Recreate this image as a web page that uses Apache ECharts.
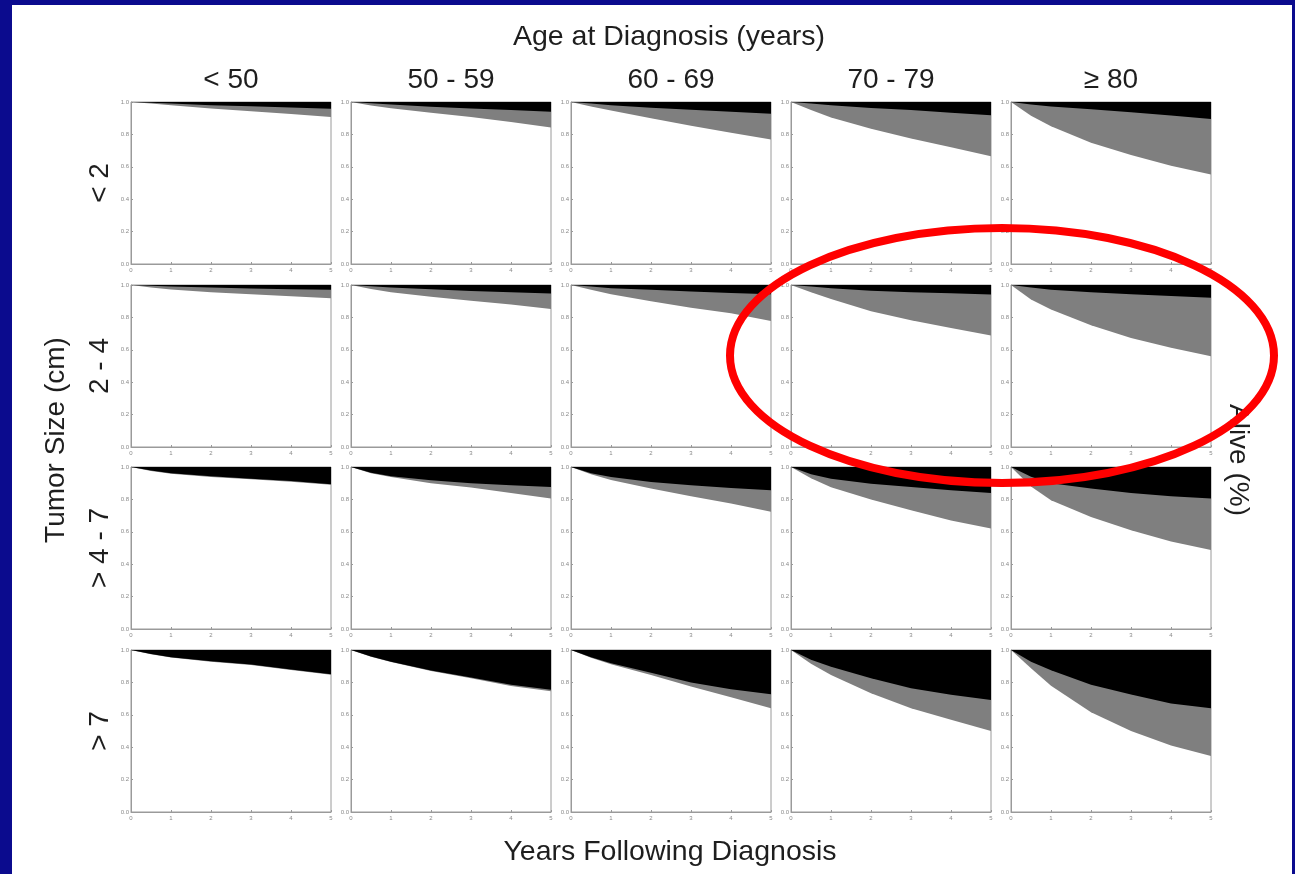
<!DOCTYPE html>
<html>
<head>
<meta charset="utf-8">
<script src="https://cdn.jsdelivr.net/npm/echarts@6/dist/echarts.min.js"></script>
<style>
  html, body { margin: 0; padding: 0; width: 1295px; height: 874px; overflow: hidden; background: #0b0b8e; }
  #paper { position: absolute; left: 12px; top: 5px; width: 1280px; height: 869px; background: #ffffff; }
  #chart { position: absolute; left: 0; top: 0; width: 1295px; height: 874px; }
</style>
</head>
<body>
<div id="paper"></div>
<div id="chart"></div>
<script>
// Follow-up time points (years after diagnosis)
const years = [0, 0.5, 1, 2, 3, 4, 5];
const xTicks = [0, 1, 2, 3, 4, 5];
const yTicks = [0, 0.2, 0.4, 0.6, 0.8, 1.0];

const ageGroups = ['< 50', '50 - 59', '60 - 69', '70 - 79', '\u2265 80'];
const sizeGroups = ['< 2', '2 - 4', '> 4 - 7', '> 7'];

// Proportion still alive (white area), one list per age group
const aliveUnder2 = [
  [1, 0.990, 0.980, 0.960, 0.943, 0.926, 0.908],
  [1, 0.978, 0.962, 0.934, 0.907, 0.877, 0.843],
  [1, 0.972, 0.948, 0.900, 0.853, 0.810, 0.768],
  [1, 0.950, 0.905, 0.835, 0.775, 0.720, 0.665],
  [1, 0.915, 0.850, 0.748, 0.673, 0.607, 0.552]
];
// 1 minus cumulative cancer deaths (lower edge of the black band)
const freeOfCancerDeathUnder2 = [
  [1, 0.995, 0.990, 0.980, 0.973, 0.966, 0.958],
  [1, 0.992, 0.984, 0.970, 0.960, 0.950, 0.940],
  [1, 0.990, 0.980, 0.965, 0.952, 0.940, 0.928],
  [1, 0.990, 0.980, 0.963, 0.950, 0.934, 0.918],
  [1, 0.985, 0.972, 0.956, 0.937, 0.916, 0.895]
];

const alive2to4 = [
  [1, 0.985, 0.972, 0.956, 0.943, 0.930, 0.918],
  [1, 0.975, 0.955, 0.928, 0.903, 0.880, 0.852],
  [1, 0.970, 0.943, 0.900, 0.860, 0.825, 0.778],
  [1, 0.955, 0.914, 0.838, 0.783, 0.735, 0.688],
  [1, 0.910, 0.848, 0.751, 0.673, 0.613, 0.560]
];
const freeOfCancerDeath2to4 = [
  [1, 0.995, 0.990, 0.984, 0.979, 0.974, 0.970],
  [1, 0.992, 0.984, 0.973, 0.963, 0.955, 0.948],
  [1, 0.990, 0.980, 0.970, 0.960, 0.950, 0.943],
  [1, 0.990, 0.980, 0.965, 0.955, 0.949, 0.942],
  [1, 0.985, 0.970, 0.955, 0.943, 0.932, 0.921]
];

const alive4to7 = [
  [1, 0.976, 0.959, 0.939, 0.924, 0.909, 0.890],
  [1, 0.962, 0.938, 0.900, 0.873, 0.840, 0.805],
  [1, 0.955, 0.920, 0.867, 0.820, 0.774, 0.723],
  [1, 0.930, 0.875, 0.800, 0.733, 0.670, 0.620],
  [1, 0.880, 0.795, 0.692, 0.610, 0.540, 0.488]
];
const freeOfCancerDeath4to7 = [
  [1, 0.978, 0.962, 0.943, 0.928, 0.913, 0.894],
  [1, 0.965, 0.943, 0.918, 0.900, 0.887, 0.877],
  [1, 0.962, 0.938, 0.908, 0.887, 0.870, 0.856],
  [1, 0.955, 0.928, 0.897, 0.877, 0.856, 0.840],
  [1, 0.940, 0.900, 0.867, 0.840, 0.820, 0.805]
];

const aliveOver7 = [
  [1, 0.974, 0.953, 0.928, 0.907, 0.877, 0.847],
  [1, 0.959, 0.926, 0.870, 0.826, 0.778, 0.745],
  [1, 0.952, 0.912, 0.846, 0.774, 0.708, 0.640],
  [1, 0.915, 0.846, 0.733, 0.640, 0.569, 0.500],
  [1, 0.887, 0.780, 0.615, 0.500, 0.410, 0.345]
];
const freeOfCancerDeathOver7 = [
  [1, 0.975, 0.955, 0.930, 0.910, 0.880, 0.850],
  [1, 0.960, 0.928, 0.873, 0.830, 0.785, 0.755],
  [1, 0.955, 0.918, 0.860, 0.800, 0.758, 0.727],
  [1, 0.940, 0.897, 0.825, 0.764, 0.723, 0.692],
  [1, 0.928, 0.875, 0.785, 0.725, 0.670, 0.640]
];

const aliveRows = [aliveUnder2, alive2to4, alive4to7, aliveOver7];
const cancerRows = [freeOfCancerDeathUnder2, freeOfCancerDeath2to4, freeOfCancerDeath4to7, freeOfCancerDeathOver7];

// Panel layout (pixels)
const panelLeft0 = 131, panelStepX = 220, panelW = 200;
const panelTops = [102, 285, 467, 650], panelH = 162;

const FONT = '"Liberation Sans", Arial, Helvetica, sans-serif';
const frameColor = '#9a9a9a';
const tickTextColor = '#8a8a8a';

const grid = [], xAxis = [], yAxis = [], series = [];
let idx = 0;
for (let r = 0; r < sizeGroups.length; r++) {
  for (let c = 0; c < ageGroups.length; c++) {
    grid.push({
      left: panelLeft0 + c * panelStepX,
      top: panelTops[r],
      width: panelW,
      height: panelH,
      show: true,
      borderColor: frameColor,
      borderWidth: 1,
      backgroundColor: 'transparent'
    });
    xAxis.push({
      gridIndex: idx, type: 'value', min: 0, max: 5, interval: 1,
      axisLine: { show: true, onZero: false, lineStyle: { color: frameColor, width: 1 } },
      axisTick: { show: true, inside: true, length: 2, lineStyle: { color: frameColor } },
      axisLabel: { show: true, fontSize: 6, color: tickTextColor, margin: 3, fontFamily: FONT,
                   formatter: v => xTicks.includes(v) ? String(v) : '' },
      splitLine: { show: false }
    });
    yAxis.push({
      gridIndex: idx, type: 'value', min: 0, max: 1, interval: 0.2,
      axisLine: { show: true, onZero: false, lineStyle: { color: frameColor, width: 1 } },
      axisTick: { show: true, inside: true, length: 2, lineStyle: { color: frameColor } },
      axisLabel: { show: true, fontSize: 6, color: tickTextColor, margin: 2, fontFamily: FONT,
                   formatter: v => v.toFixed(1) },
      splitLine: { show: false }
    });
    const alive = aliveRows[r][c];
    const noCancerDeath = cancerRows[r][c];
    // grey band: deaths from other causes (filled from survival curve up to 1.0)
    series.push({
      type: 'line', xAxisIndex: idx, yAxisIndex: idx,
      data: years.map((t, i) => [t, alive[i]]),
      showSymbol: false, silent: true,
      lineStyle: { width: 0 },
      areaStyle: { color: '#7f7f7f', opacity: 1, origin: 'end' },
      z: 2
    });
    // black band: cancer deaths, drawn over the grey band
    series.push({
      type: 'line', xAxisIndex: idx, yAxisIndex: idx,
      data: years.map((t, i) => [t, noCancerDeath[i]]),
      showSymbol: false, silent: true,
      lineStyle: { width: 0 },
      areaStyle: { color: '#000000', opacity: 1, origin: 'end' },
      z: 3
    });
    idx++;
  }
}

const textColor = '#1e1e1e';
const graphic = [];
function label(text, x, y, size, rotation) {
  graphic.push({
    type: 'text', x: x, y: y, rotation: rotation || 0, z: 50,
    style: { text: text, font: `${size}px ${FONT}`, fill: textColor, align: 'center', verticalAlign: 'middle' }
  });
}
label('Age at Diagnosis (years)', 669, 37, 28.5);
ageGroups.forEach((g, c) => label(g, panelLeft0 + c * panelStepX + panelW / 2, 80, 28));
sizeGroups.forEach((g, r) => label(g, 100, panelTops[r] + panelH / 2, 28, Math.PI / 2));
label('Tumor Size (cm)', 56, 440, 28, Math.PI / 2);
label('Years Following Diagnosis', 670, 852, 28.5);
label('Alive (%)', 1238, 460, 28, -Math.PI / 2);

// red highlight ring around the two oldest age groups, 2 - 4 cm
graphic.push({
  type: 'ellipse', z: 100, silent: true,
  shape: { cx: 1002, cy: 355.5, rx: 272, ry: 127.5 },
  style: { fill: null, stroke: '#ff0000', lineWidth: 8 }
});

const chart = echarts.init(document.getElementById('chart'), null, { renderer: 'canvas' });
chart.setOption({
  backgroundColor: 'transparent',
  animation: false,
  grid, xAxis, yAxis, series, graphic
});
</script>
</body>
</html>
